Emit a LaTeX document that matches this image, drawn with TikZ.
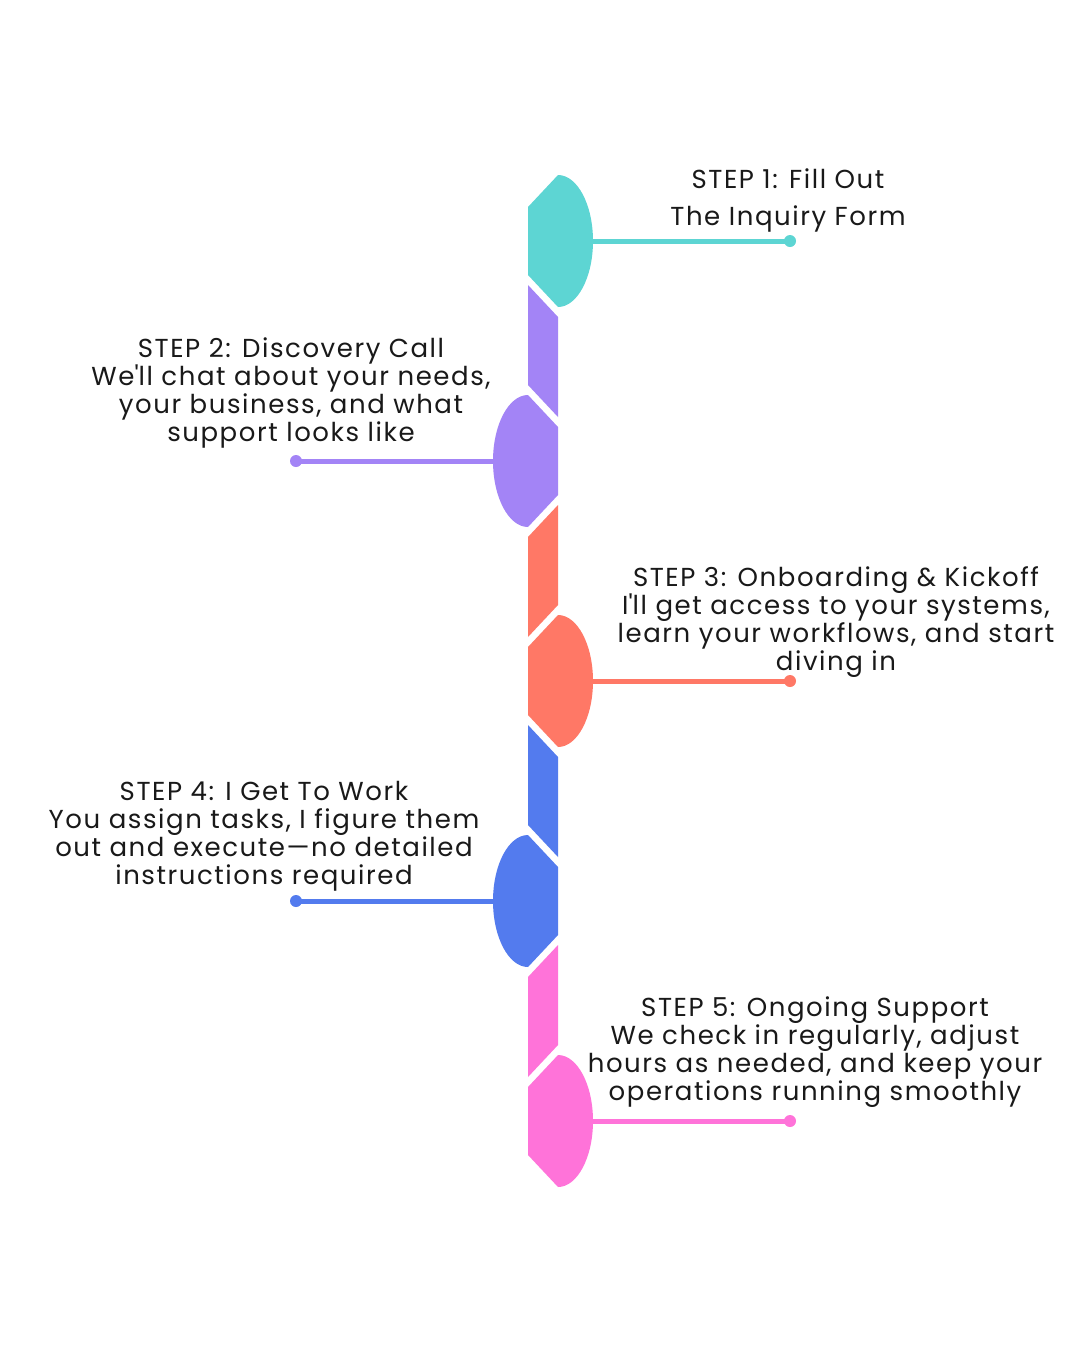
\documentclass[tikz,border=0pt]{standalone}
\usepackage{fontspec}
\setmainfont{Poppins}[LetterSpace=6]
\usetikzlibrary{positioning,calc}

\definecolor{stepteal}{HTML}{5DD5D3}
\definecolor{steppurple}{HTML}{A384F6}
\definecolor{stepsalmon}{HTML}{FF7866}
\definecolor{stepblue}{HTML}{537BEE}
\definecolor{steppink}{HTML}{FF73D9}

\begin{document}
\begin{tikzpicture}[x=0.5pt, y=-0.5pt,
    steptext/.style={font=\fontsize{13}{14}\selectfont, align=center, inner sep=0pt, text=black!90},
    link/.style={line width=2.5pt},
    dot/.style={circle, minimum size=6pt, inner sep=0pt}
  ]
  \fill[white] (0,0) rectangle (1080,1350);
  \useasboundingbox (0,0) rectangle (1080,1350);

  % heads (s = 1 opens right, s = -1 opens left) and the bars above them
  \foreach \i/\cy/\col/\s in {1/241/stepteal/1, 2/461/steppurple/-1, 3/681/stepsalmon/1, 4/901/stepblue/-1, 5/1121/steppink/1} {
    \ifnum\i>1
      \fill[\col] (543+15*\s,\cy-176) -- (543-15*\s,\cy-144) -- (543-15*\s,\cy-44) -- (543+15*\s,\cy-76) -- cycle;
    \fi
    \fill[\col] (543-15*\s,\cy-34) -- (543+15*\s,\cy-66)
      .. controls (543+34.3*\s,\cy-66) and (543+50*\s,\cy-36.45) .. (543+50*\s,\cy)
      .. controls (543+50*\s,\cy+36.45) and (543+34.3*\s,\cy+66) .. (543+15*\s,\cy+66)
      -- (543-15*\s,\cy+34) -- cycle;
    \coordinate (tip\i) at (543+50*\s,\cy);
    \node[dot, fill=\col] (dot\i) at (543+247*\s,\cy) {};
    \draw[link, \col] (tip\i) -- (dot\i.center);
  }

  \node[steptext] (note1) at (788,200) {STEP 1: Fill Out\\[4.5pt]The Inquiry Form};
  \node[steptext] (note2) at (291,393) {STEP 2: Discovery Call\\We\textquotesingle ll chat about your needs,\\your business, and what\\support looks like};
  \node[steptext] (note3) at (836,622) {STEP 3: Onboarding \& Kickoff\\I\textquotesingle ll get access to your systems,\\learn your workflows, and start\\diving in};
  \node[steptext] (note4) at (264,836) {STEP 4: I Get To Work\\You assign tasks, I figure them\\out and execute---no detailed\\instructions required};
  \node[steptext] (note5) at (815,1052) {STEP 5: Ongoing Support\\We check in regularly, adjust\\hours as needed, and keep your\\operations running smoothly};
\end{tikzpicture}
\end{document}
